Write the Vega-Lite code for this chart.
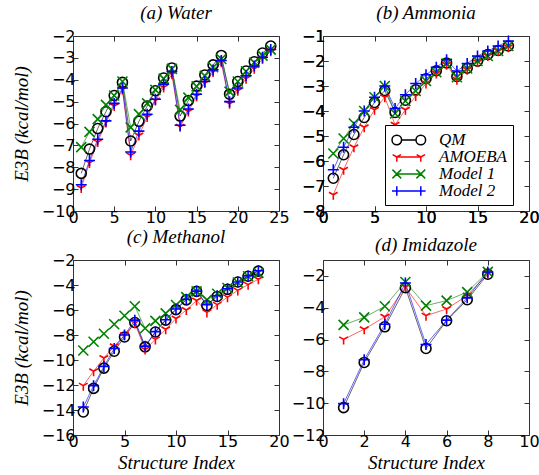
{
"$schema": "https://vega.github.io/schema/vega-lite/v6.json",
"padding": {"left": 11, "top": 3, "right": 0, "bottom": 0},
"background": "white",
"data": {"values": [
{"p":"a","m":"QM","x":1,"y":-8.28},{"p":"a","m":"QM","x":2,"y":-7.17},{"p":"a","m":"QM","x":3,"y":-6.23},{"p":"a","m":"QM","x":4,"y":-5.46},{"p":"a","m":"QM","x":5,"y":-4.72},{"p":"a","m":"QM","x":6,"y":-4.12},{"p":"a","m":"QM","x":7,"y":-6.8},{"p":"a","m":"QM","x":8,"y":-5.9},{"p":"a","m":"QM","x":9,"y":-5.2},{"p":"a","m":"QM","x":10,"y":-4.5},{"p":"a","m":"QM","x":11,"y":-3.92},{"p":"a","m":"QM","x":12,"y":-3.46},{"p":"a","m":"QM","x":13,"y":-5.66},{"p":"a","m":"QM","x":14,"y":-4.95},{"p":"a","m":"QM","x":15,"y":-4.29},{"p":"a","m":"QM","x":16,"y":-3.78},{"p":"a","m":"QM","x":17,"y":-3.32},{"p":"a","m":"QM","x":18,"y":-2.89},{"p":"a","m":"QM","x":19,"y":-4.66},{"p":"a","m":"QM","x":20,"y":-4.08},{"p":"a","m":"QM","x":21,"y":-3.6},{"p":"a","m":"QM","x":22,"y":-3.18},{"p":"a","m":"QM","x":23,"y":-2.78},{"p":"a","m":"QM","x":24,"y":-2.46},
{"p":"a","m":"AMOEBA","x":1,"y":-8.95},{"p":"a","m":"AMOEBA","x":2,"y":-7.8},{"p":"a","m":"AMOEBA","x":3,"y":-6.85},{"p":"a","m":"AMOEBA","x":4,"y":-5.95},{"p":"a","m":"AMOEBA","x":5,"y":-5.2},{"p":"a","m":"AMOEBA","x":6,"y":-4.45},{"p":"a","m":"AMOEBA","x":7,"y":-7.45},{"p":"a","m":"AMOEBA","x":8,"y":-6.55},{"p":"a","m":"AMOEBA","x":9,"y":-5.7},{"p":"a","m":"AMOEBA","x":10,"y":-4.95},{"p":"a","m":"AMOEBA","x":11,"y":-4.35},{"p":"a","m":"AMOEBA","x":12,"y":-3.75},{"p":"a","m":"AMOEBA","x":13,"y":-6.15},{"p":"a","m":"AMOEBA","x":14,"y":-5.45},{"p":"a","m":"AMOEBA","x":15,"y":-4.75},{"p":"a","m":"AMOEBA","x":16,"y":-4.15},{"p":"a","m":"AMOEBA","x":17,"y":-3.65},{"p":"a","m":"AMOEBA","x":18,"y":-3.2},{"p":"a","m":"AMOEBA","x":19,"y":-5.1},{"p":"a","m":"AMOEBA","x":20,"y":-4.5},{"p":"a","m":"AMOEBA","x":21,"y":-3.95},{"p":"a","m":"AMOEBA","x":22,"y":-3.5},{"p":"a","m":"AMOEBA","x":23,"y":-3.05},{"p":"a","m":"AMOEBA","x":24,"y":-2.7},
{"p":"a","m":"Model 1","x":1,"y":-7.08},{"p":"a","m":"Model 1","x":2,"y":-6.38},{"p":"a","m":"Model 1","x":3,"y":-5.8},{"p":"a","m":"Model 1","x":4,"y":-5.15},{"p":"a","m":"Model 1","x":5,"y":-4.72},{"p":"a","m":"Model 1","x":6,"y":-4.08},{"p":"a","m":"Model 1","x":7,"y":-6.18},{"p":"a","m":"Model 1","x":8,"y":-5.57},{"p":"a","m":"Model 1","x":9,"y":-5.08},{"p":"a","m":"Model 1","x":10,"y":-4.46},{"p":"a","m":"Model 1","x":11,"y":-3.95},{"p":"a","m":"Model 1","x":12,"y":-3.5},{"p":"a","m":"Model 1","x":13,"y":-5.38},{"p":"a","m":"Model 1","x":14,"y":-4.82},{"p":"a","m":"Model 1","x":15,"y":-4.3},{"p":"a","m":"Model 1","x":16,"y":-3.82},{"p":"a","m":"Model 1","x":17,"y":-3.43},{"p":"a","m":"Model 1","x":18,"y":-3.05},{"p":"a","m":"Model 1","x":19,"y":-4.54},{"p":"a","m":"Model 1","x":20,"y":-4.08},{"p":"a","m":"Model 1","x":21,"y":-3.62},{"p":"a","m":"Model 1","x":22,"y":-3.22},{"p":"a","m":"Model 1","x":23,"y":-2.9},{"p":"a","m":"Model 1","x":24,"y":-2.62},
{"p":"a","m":"Model 2","x":1,"y":-8.8},{"p":"a","m":"Model 2","x":2,"y":-7.69},{"p":"a","m":"Model 2","x":3,"y":-6.72},{"p":"a","m":"Model 2","x":4,"y":-5.88},{"p":"a","m":"Model 2","x":5,"y":-5.08},{"p":"a","m":"Model 2","x":6,"y":-4.38},{"p":"a","m":"Model 2","x":7,"y":-7.3},{"p":"a","m":"Model 2","x":8,"y":-6.35},{"p":"a","m":"Model 2","x":9,"y":-5.58},{"p":"a","m":"Model 2","x":10,"y":-4.89},{"p":"a","m":"Model 2","x":11,"y":-4.2},{"p":"a","m":"Model 2","x":12,"y":-3.62},{"p":"a","m":"Model 2","x":13,"y":-6.08},{"p":"a","m":"Model 2","x":14,"y":-5.34},{"p":"a","m":"Model 2","x":15,"y":-4.66},{"p":"a","m":"Model 2","x":16,"y":-4.08},{"p":"a","m":"Model 2","x":17,"y":-3.55},{"p":"a","m":"Model 2","x":18,"y":-3.12},{"p":"a","m":"Model 2","x":19,"y":-5.0},{"p":"a","m":"Model 2","x":20,"y":-4.38},{"p":"a","m":"Model 2","x":21,"y":-3.82},{"p":"a","m":"Model 2","x":22,"y":-3.37},{"p":"a","m":"Model 2","x":23,"y":-2.97},{"p":"a","m":"Model 2","x":24,"y":-2.62},
{"p":"b","m":"QM","x":1,"y":-6.69},{"p":"b","m":"QM","x":2,"y":-5.75},{"p":"b","m":"QM","x":3,"y":-4.94},{"p":"b","m":"QM","x":4,"y":-4.26},{"p":"b","m":"QM","x":5,"y":-3.66},{"p":"b","m":"QM","x":6,"y":-3.18},{"p":"b","m":"QM","x":7,"y":-4.06},{"p":"b","m":"QM","x":8,"y":-3.57},{"p":"b","m":"QM","x":9,"y":-3.15},{"p":"b","m":"QM","x":10,"y":-2.71},{"p":"b","m":"QM","x":11,"y":-2.39},{"p":"b","m":"QM","x":12,"y":-2.08},{"p":"b","m":"QM","x":13,"y":-2.62},{"p":"b","m":"QM","x":14,"y":-2.29},{"p":"b","m":"QM","x":15,"y":-2.01},{"p":"b","m":"QM","x":16,"y":-1.74},{"p":"b","m":"QM","x":17,"y":-1.58},{"p":"b","m":"QM","x":18,"y":-1.4},
{"p":"b","m":"AMOEBA","x":1,"y":-7.35},{"p":"b","m":"AMOEBA","x":2,"y":-6.35},{"p":"b","m":"AMOEBA","x":3,"y":-5.45},{"p":"b","m":"AMOEBA","x":4,"y":-4.65},{"p":"b","m":"AMOEBA","x":5,"y":-3.95},{"p":"b","m":"AMOEBA","x":6,"y":-3.45},{"p":"b","m":"AMOEBA","x":7,"y":-4.55},{"p":"b","m":"AMOEBA","x":8,"y":-3.95},{"p":"b","m":"AMOEBA","x":9,"y":-3.4},{"p":"b","m":"AMOEBA","x":10,"y":-2.9},{"p":"b","m":"AMOEBA","x":11,"y":-2.5},{"p":"b","m":"AMOEBA","x":12,"y":-2.15},{"p":"b","m":"AMOEBA","x":13,"y":-2.75},{"p":"b","m":"AMOEBA","x":14,"y":-2.35},{"p":"b","m":"AMOEBA","x":15,"y":-2.05},{"p":"b","m":"AMOEBA","x":16,"y":-1.8},{"p":"b","m":"AMOEBA","x":17,"y":-1.6},{"p":"b","m":"AMOEBA","x":18,"y":-1.45},
{"p":"b","m":"Model 1","x":1,"y":-5.7},{"p":"b","m":"Model 1","x":2,"y":-5.1},{"p":"b","m":"Model 1","x":3,"y":-4.5},{"p":"b","m":"Model 1","x":4,"y":-4.0},{"p":"b","m":"Model 1","x":5,"y":-3.45},{"p":"b","m":"Model 1","x":6,"y":-3.0},{"p":"b","m":"Model 1","x":7,"y":-4.1},{"p":"b","m":"Model 1","x":8,"y":-3.6},{"p":"b","m":"Model 1","x":9,"y":-3.2},{"p":"b","m":"Model 1","x":10,"y":-2.8},{"p":"b","m":"Model 1","x":11,"y":-2.45},{"p":"b","m":"Model 1","x":12,"y":-2.1},{"p":"b","m":"Model 1","x":13,"y":-2.65},{"p":"b","m":"Model 1","x":14,"y":-2.3},{"p":"b","m":"Model 1","x":15,"y":-2.0},{"p":"b","m":"Model 1","x":16,"y":-1.8},{"p":"b","m":"Model 1","x":17,"y":-1.6},{"p":"b","m":"Model 1","x":18,"y":-1.4},
{"p":"b","m":"Model 2","x":1,"y":-6.35},{"p":"b","m":"Model 2","x":2,"y":-5.45},{"p":"b","m":"Model 2","x":3,"y":-4.65},{"p":"b","m":"Model 2","x":4,"y":-4.0},{"p":"b","m":"Model 2","x":5,"y":-3.45},{"p":"b","m":"Model 2","x":6,"y":-3.0},{"p":"b","m":"Model 2","x":7,"y":-3.9},{"p":"b","m":"Model 2","x":8,"y":-3.35},{"p":"b","m":"Model 2","x":9,"y":-2.9},{"p":"b","m":"Model 2","x":10,"y":-2.55},{"p":"b","m":"Model 2","x":11,"y":-2.25},{"p":"b","m":"Model 2","x":12,"y":-1.95},{"p":"b","m":"Model 2","x":13,"y":-2.4},{"p":"b","m":"Model 2","x":14,"y":-2.1},{"p":"b","m":"Model 2","x":15,"y":-1.8},{"p":"b","m":"Model 2","x":16,"y":-1.6},{"p":"b","m":"Model 2","x":17,"y":-1.4},{"p":"b","m":"Model 2","x":18,"y":-1.2},
{"p":"c","m":"QM","x":1,"y":-14.16},{"p":"c","m":"QM","x":2,"y":-12.27},{"p":"c","m":"QM","x":3,"y":-10.65},{"p":"c","m":"QM","x":4,"y":-9.3},{"p":"c","m":"QM","x":5,"y":-8.16},{"p":"c","m":"QM","x":6,"y":-7.0},{"p":"c","m":"QM","x":7,"y":-8.95},{"p":"c","m":"QM","x":8,"y":-7.76},{"p":"c","m":"QM","x":9,"y":-6.81},{"p":"c","m":"QM","x":10,"y":-5.97},{"p":"c","m":"QM","x":11,"y":-5.19},{"p":"c","m":"QM","x":12,"y":-4.51},{"p":"c","m":"QM","x":13,"y":-5.65},{"p":"c","m":"QM","x":14,"y":-4.92},{"p":"c","m":"QM","x":15,"y":-4.35},{"p":"c","m":"QM","x":16,"y":-3.76},{"p":"c","m":"QM","x":17,"y":-3.3},{"p":"c","m":"QM","x":18,"y":-2.89},
{"p":"c","m":"AMOEBA","x":1,"y":-12.05},{"p":"c","m":"AMOEBA","x":2,"y":-10.9},{"p":"c","m":"AMOEBA","x":3,"y":-9.84},{"p":"c","m":"AMOEBA","x":4,"y":-8.9},{"p":"c","m":"AMOEBA","x":5,"y":-8.0},{"p":"c","m":"AMOEBA","x":6,"y":-7.05},{"p":"c","m":"AMOEBA","x":7,"y":-9.16},{"p":"c","m":"AMOEBA","x":8,"y":-8.35},{"p":"c","m":"AMOEBA","x":9,"y":-7.54},{"p":"c","m":"AMOEBA","x":10,"y":-6.68},{"p":"c","m":"AMOEBA","x":11,"y":-6.0},{"p":"c","m":"AMOEBA","x":12,"y":-5.24},{"p":"c","m":"AMOEBA","x":13,"y":-6.19},{"p":"c","m":"AMOEBA","x":14,"y":-5.57},{"p":"c","m":"AMOEBA","x":15,"y":-4.97},{"p":"c","m":"AMOEBA","x":16,"y":-4.43},{"p":"c","m":"AMOEBA","x":17,"y":-3.97},{"p":"c","m":"AMOEBA","x":18,"y":-3.54},
{"p":"c","m":"Model 1","x":1,"y":-9.24},{"p":"c","m":"Model 1","x":2,"y":-8.54},{"p":"c","m":"Model 1","x":3,"y":-7.9},{"p":"c","m":"Model 1","x":4,"y":-7.14},{"p":"c","m":"Model 1","x":5,"y":-6.46},{"p":"c","m":"Model 1","x":6,"y":-5.7},{"p":"c","m":"Model 1","x":7,"y":-7.46},{"p":"c","m":"Model 1","x":8,"y":-6.87},{"p":"c","m":"Model 1","x":9,"y":-6.27},{"p":"c","m":"Model 1","x":10,"y":-5.6},{"p":"c","m":"Model 1","x":11,"y":-4.97},{"p":"c","m":"Model 1","x":12,"y":-4.51},{"p":"c","m":"Model 1","x":13,"y":-5.19},{"p":"c","m":"Model 1","x":14,"y":-4.7},{"p":"c","m":"Model 1","x":15,"y":-4.24},{"p":"c","m":"Model 1","x":16,"y":-3.8},{"p":"c","m":"Model 1","x":17,"y":-3.3},{"p":"c","m":"Model 1","x":18,"y":-3.03},
{"p":"c","m":"Model 2","x":1,"y":-13.76},{"p":"c","m":"Model 2","x":2,"y":-12.05},{"p":"c","m":"Model 2","x":3,"y":-10.51},{"p":"c","m":"Model 2","x":4,"y":-9.08},{"p":"c","m":"Model 2","x":5,"y":-8.0},{"p":"c","m":"Model 2","x":6,"y":-6.81},{"p":"c","m":"Model 2","x":7,"y":-8.89},{"p":"c","m":"Model 2","x":8,"y":-7.73},{"p":"c","m":"Model 2","x":9,"y":-6.78},{"p":"c","m":"Model 2","x":10,"y":-5.92},{"p":"c","m":"Model 2","x":11,"y":-5.14},{"p":"c","m":"Model 2","x":12,"y":-4.49},{"p":"c","m":"Model 2","x":13,"y":-5.57},{"p":"c","m":"Model 2","x":14,"y":-4.86},{"p":"c","m":"Model 2","x":15,"y":-4.3},{"p":"c","m":"Model 2","x":16,"y":-3.76},{"p":"c","m":"Model 2","x":17,"y":-3.27},{"p":"c","m":"Model 2","x":18,"y":-2.86},
{"p":"d","m":"QM","x":1,"y":-10.28},{"p":"d","m":"QM","x":2,"y":-7.44},{"p":"d","m":"QM","x":3,"y":-5.2},{"p":"d","m":"QM","x":4,"y":-2.74},{"p":"d","m":"QM","x":5,"y":-6.56},{"p":"d","m":"QM","x":6,"y":-4.82},{"p":"d","m":"QM","x":7,"y":-3.5},{"p":"d","m":"QM","x":8,"y":-1.89},
{"p":"d","m":"AMOEBA","x":1,"y":-5.99},{"p":"d","m":"AMOEBA","x":2,"y":-5.35},{"p":"d","m":"AMOEBA","x":3,"y":-4.57},{"p":"d","m":"AMOEBA","x":4,"y":-2.7},{"p":"d","m":"AMOEBA","x":5,"y":-4.5},{"p":"d","m":"AMOEBA","x":6,"y":-4.08},{"p":"d","m":"AMOEBA","x":7,"y":-3.23},{"p":"d","m":"AMOEBA","x":8,"y":-1.85},
{"p":"d","m":"Model 1","x":1,"y":-5.08},{"p":"d","m":"Model 1","x":2,"y":-4.61},{"p":"d","m":"Model 1","x":3,"y":-3.91},{"p":"d","m":"Model 1","x":4,"y":-2.38},{"p":"d","m":"Model 1","x":5,"y":-3.87},{"p":"d","m":"Model 1","x":6,"y":-3.55},{"p":"d","m":"Model 1","x":7,"y":-3.02},{"p":"d","m":"Model 1","x":8,"y":-1.75},
{"p":"d","m":"Model 2","x":1,"y":-10.03},{"p":"d","m":"Model 2","x":2,"y":-7.27},{"p":"d","m":"Model 2","x":3,"y":-5.04},{"p":"d","m":"Model 2","x":4,"y":-2.45},{"p":"d","m":"Model 2","x":5,"y":-6.31},{"p":"d","m":"Model 2","x":6,"y":-4.78},{"p":"d","m":"Model 2","x":7,"y":-3.38},{"p":"d","m":"Model 2","x":8,"y":-1.75}
]},
"columns": 2,
"spacing": {"row": 49, "column": 44},
"bounds": "flush",
"resolve": {"scale": {"color": "independent", "shape": "independent"}},
"concat": [
{
 "title": "(a) Water",
 "width": 206, "height": 175,
 "transform": [{"filter": "datum.p === 'a'"}],
 "layer": [
  {"mark": {"type": "line", "strokeWidth": 1, "opacity": 0.6},
   "encoding": {
    "x": {"field": "x", "type": "quantitative", "scale": {"domain": [0, 25], "nice": false, "zero": false}, "axis": {"orient": "bottom", "values": [0,5,10,15,20,25], "title": null}},
    "y": {"field": "y", "type": "quantitative", "scale": {"domain": [-10, -2], "nice": false, "zero": false}, "axis": {"orient": "left", "values": [-10,-9,-8,-7,-6,-5,-4,-3,-2], "title": "E3B (kcal/mol)"}},
    "color": {"field": "m", "type": "nominal", "scale": {"domain": ["QM","AMOEBA","Model 1","Model 2"], "range": ["black","#ff0000","#008000","#0000ff"]}, "legend": null}
   }},
  {"mark": {"type": "point", "filled": false, "size": 100, "strokeWidth": 1.6, "opacity": 1},
   "encoding": {
    "x": {"field": "x", "type": "quantitative", "scale": {"domain": [0, 25], "nice": false, "zero": false}, "axis": {"orient": "top", "values": [0,5,10,15,20,25], "labels": false, "title": null}},
    "y": {"field": "y", "type": "quantitative", "scale": {"domain": [-10, -2], "nice": false, "zero": false}, "axis": {"orient": "right", "values": [-10,-9,-8,-7,-6,-5,-4,-3,-2], "labels": false, "title": null}},
    "color": {"field": "m", "type": "nominal", "scale": {"domain": ["QM","AMOEBA","Model 1","Model 2"], "range": ["black","#ff0000","#008000","#0000ff"]}, "legend": null},
    "shape": {"field": "m", "type": "nominal", "scale": {"domain": ["QM","AMOEBA","Model 1","Model 2"], "range": ["circle","M0,0L0,1M0,0L-0.866,-0.5M0,0L0.866,-0.5","M-1,-1L1,1M-1,1L1,-1","M-1.1,0L1.1,0M0,-1.1L0,1.1"]}, "legend": null}
   }}
 ]
},
{
 "title": "(b) Ammonia",
 "width": 206, "height": 175,
 "resolve": {"scale": {"color": "independent", "shape": "independent"}},
 "layer": [
  {"mark": {"type": "point", "filled": false, "strokeWidth": 1.5, "opacity": 1},
   "transform": [{"filter": "datum.p === 'none'"}],
   "encoding": {
    "x": {"field": "x", "type": "quantitative", "scale": {"domain": [0, 20], "nice": false, "zero": false}, "axis": {"orient": "bottom", "values": [0,5,10,15,20], "title": null}},
    "y": {"field": "y", "type": "quantitative", "scale": {"domain": [-8, -1], "nice": false, "zero": false}, "axis": {"orient": "left", "values": [-8,-7,-6,-5,-4,-3,-2,-1], "title": null}},
    "color": {"field": "m", "type": "nominal", "scale": {"domain": ["QM","AMOEBA","Model 1","Model 2"], "range": ["black","#ff0000","#008000","#0000ff"]},
      "legend": {"orient": "none", "legendX": 62, "legendY": 89, "title": null, "strokeColor": "black", "fillColor": "white", "padding": 6, "labelFont": "Liberation Serif", "labelFontStyle": "italic", "labelFontSize": 17, "labelColor": "black", "symbolSize": 256, "symbolStrokeWidth": 1.5, "labelOffset": 30, "rowPadding": 0}},
    "shape": {"field": "m", "type": "nominal", "scale": {"domain": ["QM","AMOEBA","Model 1","Model 2"], "range": ["M-1,0A0.6,0.6 0 1,0 0.2,0A0.6,0.6 0 1,0 -1,0ZM0.2,0L2,0M2,0A0.6,0.6 0 1,0 3.2,0A0.6,0.6 0 1,0 2,0Z", "M-0.4,0L2.6,0M-0.4,0L-0.4,0.6M-0.4,0L-0.92,-0.3M-0.4,0L0.12,-0.3M2.6,0L2.6,0.6M2.6,0L2.08,-0.3M2.6,0L3.12,-0.3", "M-0.4,0L2.6,0M-0.95,-0.55L0.15,0.55M-0.95,0.55L0.15,-0.55M2.05,-0.55L3.15,0.55M2.05,0.55L3.15,-0.55", "M-1,0L3.2,0M-0.4,-0.6L-0.4,0.6M2.6,-0.6L2.6,0.6"]},
      "legend": {"orient": "none", "legendX": 62, "legendY": 89, "title": null, "strokeColor": "black", "fillColor": "white", "padding": 6, "labelFont": "Liberation Serif", "labelFontStyle": "italic", "labelFontSize": 17, "labelColor": "black", "symbolSize": 256, "symbolStrokeWidth": 1.5, "labelOffset": 30, "rowPadding": 0}}
   }},
  {"mark": {"type": "line", "strokeWidth": 1, "opacity": 0.6},
   "transform": [{"filter": "datum.p === 'b'"}],
   "encoding": {
    "x": {"field": "x", "type": "quantitative", "scale": {"domain": [0, 20], "nice": false, "zero": false}, "axis": {"orient": "bottom", "values": [0,5,10,15,20], "title": null}},
    "y": {"field": "y", "type": "quantitative", "scale": {"domain": [-8, -1], "nice": false, "zero": false}, "axis": {"orient": "left", "values": [-8,-7,-6,-5,-4,-3,-2,-1], "title": null}},
    "color": {"field": "m", "type": "nominal", "scale": {"domain": ["QM","AMOEBA","Model 1","Model 2"], "range": ["black","#ff0000","#008000","#0000ff"]}, "legend": null}
   }},
  {"mark": {"type": "point", "filled": false, "size": 100, "strokeWidth": 1.6, "opacity": 1},
   "transform": [{"filter": "datum.p === 'b'"}],
   "encoding": {
    "x": {"field": "x", "type": "quantitative", "scale": {"domain": [0, 20], "nice": false, "zero": false}, "axis": {"orient": "top", "values": [0,5,10,15,20], "labels": false, "title": null}},
    "y": {"field": "y", "type": "quantitative", "scale": {"domain": [-8, -1], "nice": false, "zero": false}, "axis": {"orient": "right", "values": [-8,-7,-6,-5,-4,-3,-2,-1], "labels": false, "title": null}},
    "color": {"field": "m", "type": "nominal", "scale": {"domain": ["QM","AMOEBA","Model 1","Model 2"], "range": ["black","#ff0000","#008000","#0000ff"]}, "legend": null},
    "shape": {"field": "m", "type": "nominal", "scale": {"domain": ["QM","AMOEBA","Model 1","Model 2"], "range": ["circle","M0,0L0,1M0,0L-0.866,-0.5M0,0L0.866,-0.5","M-1,-1L1,1M-1,1L1,-1","M-1.1,0L1.1,0M0,-1.1L0,1.1"]}, "legend": null}
   }}
 ]
},
{
 "title": "(c) Methanol",
 "width": 206, "height": 175,
 "transform": [{"filter": "datum.p === 'c'"}],
 "layer": [
  {"mark": {"type": "line", "strokeWidth": 1, "opacity": 0.6},
   "encoding": {
    "x": {"field": "x", "type": "quantitative", "scale": {"domain": [0, 20], "nice": false, "zero": false}, "axis": {"orient": "bottom", "values": [0,5,10,15,20], "title": "Structure Index", "titlePadding": 4}},
    "y": {"field": "y", "type": "quantitative", "scale": {"domain": [-16, -2], "nice": false, "zero": false}, "axis": {"orient": "left", "values": [-16,-14,-12,-10,-8,-6,-4,-2], "title": "E3B (kcal/mol)"}},
    "color": {"field": "m", "type": "nominal", "scale": {"domain": ["QM","AMOEBA","Model 1","Model 2"], "range": ["black","#ff0000","#008000","#0000ff"]}, "legend": null}
   }},
  {"mark": {"type": "point", "filled": false, "size": 100, "strokeWidth": 1.6, "opacity": 1},
   "encoding": {
    "x": {"field": "x", "type": "quantitative", "scale": {"domain": [0, 20], "nice": false, "zero": false}, "axis": {"orient": "top", "values": [0,5,10,15,20], "labels": false, "title": null}},
    "y": {"field": "y", "type": "quantitative", "scale": {"domain": [-16, -2], "nice": false, "zero": false}, "axis": {"orient": "right", "values": [-16,-14,-12,-10,-8,-6,-4,-2], "labels": false, "title": null}},
    "color": {"field": "m", "type": "nominal", "scale": {"domain": ["QM","AMOEBA","Model 1","Model 2"], "range": ["black","#ff0000","#008000","#0000ff"]}, "legend": null},
    "shape": {"field": "m", "type": "nominal", "scale": {"domain": ["QM","AMOEBA","Model 1","Model 2"], "range": ["circle","M0,0L0,1M0,0L-0.866,-0.5M0,0L0.866,-0.5","M-1,-1L1,1M-1,1L1,-1","M-1.1,0L1.1,0M0,-1.1L0,1.1"]}, "legend": null}
   }}
 ]
},
{
 "title": "(d) Imidazole",
 "width": 206, "height": 175,
 "transform": [{"filter": "datum.p === 'd'"}],
 "layer": [
  {"mark": {"type": "line", "strokeWidth": 1, "opacity": 0.6},
   "encoding": {
    "x": {"field": "x", "type": "quantitative", "scale": {"domain": [0, 10], "nice": false, "zero": false}, "axis": {"orient": "bottom", "values": [0,2,4,6,8,10], "title": "Structure Index", "titlePadding": 4}},
    "y": {"field": "y", "type": "quantitative", "scale": {"domain": [-12, -1], "nice": false, "zero": false}, "axis": {"orient": "left", "values": [-12,-10,-8,-6,-4,-2], "title": null}},
    "color": {"field": "m", "type": "nominal", "scale": {"domain": ["QM","AMOEBA","Model 1","Model 2"], "range": ["black","#ff0000","#008000","#0000ff"]}, "legend": null}
   }},
  {"mark": {"type": "point", "filled": false, "size": 100, "strokeWidth": 1.6, "opacity": 1},
   "encoding": {
    "x": {"field": "x", "type": "quantitative", "scale": {"domain": [0, 10], "nice": false, "zero": false}, "axis": {"orient": "top", "values": [0,2,4,6,8,10], "labels": false, "title": null}},
    "y": {"field": "y", "type": "quantitative", "scale": {"domain": [-12, -1], "nice": false, "zero": false}, "axis": {"orient": "right", "values": [-12,-10,-8,-6,-4,-2], "labels": false, "title": null}},
    "color": {"field": "m", "type": "nominal", "scale": {"domain": ["QM","AMOEBA","Model 1","Model 2"], "range": ["black","#ff0000","#008000","#0000ff"]}, "legend": null},
    "shape": {"field": "m", "type": "nominal", "scale": {"domain": ["QM","AMOEBA","Model 1","Model 2"], "range": ["circle","M0,0L0,1M0,0L-0.866,-0.5M0,0L0.866,-0.5","M-1,-1L1,1M-1,1L1,-1","M-1.1,0L1.1,0M0,-1.1L0,1.1"]}, "legend": null}
   }}
 ]
}
],
"config": {
 "view": {"stroke": "#333333", "strokeWidth": 1},
 "axis": {"grid": false, "domain": false, "tickSize": -5, "tickColor": "#333333", "labelFont": "DejaVu Sans", "labelFontSize": 16, "labelColor": "black", "labelPadding": 3, "labelFlush": false, "labelOverlap": false, "titleFont": "Liberation Serif", "titleFontStyle": "italic", "titleFontWeight": "normal", "titleFontSize": 19, "titleColor": "black", "titlePadding": 10},
 "title": {"font": "Liberation Serif", "fontStyle": "italic", "fontWeight": "normal", "fontSize": 19, "offset": 5, "color": "black"}
}
}
